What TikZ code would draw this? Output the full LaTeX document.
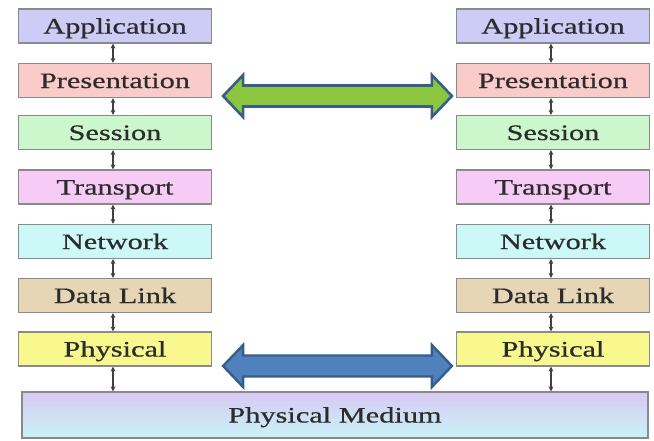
\documentclass[tikz,border=0pt]{standalone}
\usepackage{fontspec}
\usetikzlibrary{arrows.meta,calc}
\newfontfamily\layerfont[FakeStretch=1.38,FakeBold=0.6]{Liberation Serif}

\definecolor{edgegray}{HTML}{8A8A8A}
\definecolor{textgray}{HTML}{2C2C2C}
\definecolor{appfill}{HTML}{CCCCF6}
\definecolor{presfill}{HTML}{F9CCCA}
\definecolor{sessfill}{HTML}{CCF6CC}
\definecolor{transfill}{HTML}{F6CCF6}
\definecolor{netfill}{HTML}{CCF8F8}
\definecolor{linkfill}{HTML}{E6D6B6}
\definecolor{physfill}{HTML}{F8F88E}
\definecolor{medtop}{HTML}{D8C8F2}
\definecolor{medbot}{HTML}{C8F4F8}
\definecolor{arrowgreen}{HTML}{8CC63F}
\definecolor{arrowblue}{HTML}{4F81BD}
\definecolor{arrowedge}{HTML}{385D8A}

\begin{document}
\begin{tikzpicture}[x=1pt,y=-1pt,
  layer/.style={draw=edgegray, line width=1.2pt, minimum width=193pt,
    minimum height=34pt, inner sep=0pt, text=textgray,
    text height=15pt, text depth=0pt,
    font=\layerfont\fontsize{22}{24}\selectfont},
  link/.style={{Stealth[length=5pt,width=5pt]}-{Stealth[length=5pt,width=5pt]},
    draw=black!75, line width=1.1pt},
  greenarrow/.style={fill=arrowgreen, draw=arrowedge, line width=2.6pt, line join=miter},
  bluearrow/.style={fill=arrowblue, draw=arrowedge, line width=2.4pt, line join=miter}
]
\useasboundingbox (0,0) rectangle (654,440);

% left stack
\node[layer, fill=appfill]   (lapp)   at (115,26)    {Application};
\node[layer, fill=presfill]  (lpres)  at (115,80.5)  {Presentation};
\node[layer, fill=sessfill]  (lsess)  at (115,132.5) {Session};
\node[layer, fill=transfill] (ltrans) at (115,187)   {Transport};
\node[layer, fill=netfill]   (lnet)   at (115,241.5) {Network};
\node[layer, fill=linkfill]  (llink)  at (115,295.5) {Data Link};
\node[layer, fill=physfill]  (lphys)  at (115,349)   {Physical};

% right stack
\node[layer, fill=appfill]   (rapp)   at (553,26)    {Application};
\node[layer, fill=presfill]  (rpres)  at (553,80.5)  {Presentation};
\node[layer, fill=sessfill]  (rsess)  at (553,132.5) {Session};
\node[layer, fill=transfill] (rtrans) at (553,187)   {Transport};
\node[layer, fill=netfill]   (rnet)   at (553,241.5) {Network};
\node[layer, fill=linkfill]  (rlink)  at (553,295.5) {Data Link};
\node[layer, fill=physfill]  (rphys)  at (553,349)   {Physical};

% shared medium
\node[layer, minimum width=626pt, minimum height=46pt,
      top color=medtop, bottom color=medbot] (medium) at (335,415) {Physical Medium};

% vertical links between adjacent layers
\foreach \s in {l,r}{
  \draw[link] ([xshift=-2]\s app.south)   -- ([xshift=-2]\s pres.north);
  \draw[link] ([xshift=-2]\s pres.south)  -- ([xshift=-2]\s sess.north);
  \draw[link] ([xshift=-2]\s sess.south)  -- ([xshift=-2]\s trans.north);
  \draw[link] ([xshift=-2]\s trans.south) -- ([xshift=-2]\s net.north);
  \draw[link] ([xshift=-2]\s net.south)   -- ([xshift=-2]\s link.north);
  \draw[link] ([xshift=-2]\s link.south)  -- ([xshift=-2]\s phys.north);
}
\draw[link] ([xshift=-2]lphys.south) -- ([xshift=-2]lphys.south |- medium.north);
\draw[link] ([xshift=-2]rphys.south) -- ([xshift=-2]rphys.south |- medium.north);

% peer-to-peer arrows
\coordinate (gl) at ([xshift=11]lpres.east |- 0,96);
\coordinate (gr) at ([xshift=-4]rpres.west |- 0,96);
\coordinate (bl) at ([xshift=11]lphys.east |- 0,366);
\coordinate (br) at ([xshift=-4]rphys.west |- 0,366);

\draw[greenarrow] (gl) -- ++(20,-21) -- ++(0,10.5) -- ($(gr)+(-20,-10.5)$)
  -- ++(0,-10.5) -- (gr) -- ++(-20,21) -- ++(0,-10.5) -- ($(gl)+(20,10.5)$)
  -- ++(0,10.5) -- cycle;
\draw[bluearrow] (bl) -- ++(20,-21) -- ++(0,10.5) -- ($(br)+(-20,-10.5)$)
  -- ++(0,-10.5) -- (br) -- ++(-20,21) -- ++(0,-10.5) -- ($(bl)+(20,10.5)$)
  -- ++(0,10.5) -- cycle;
\end{tikzpicture}
\end{document}
